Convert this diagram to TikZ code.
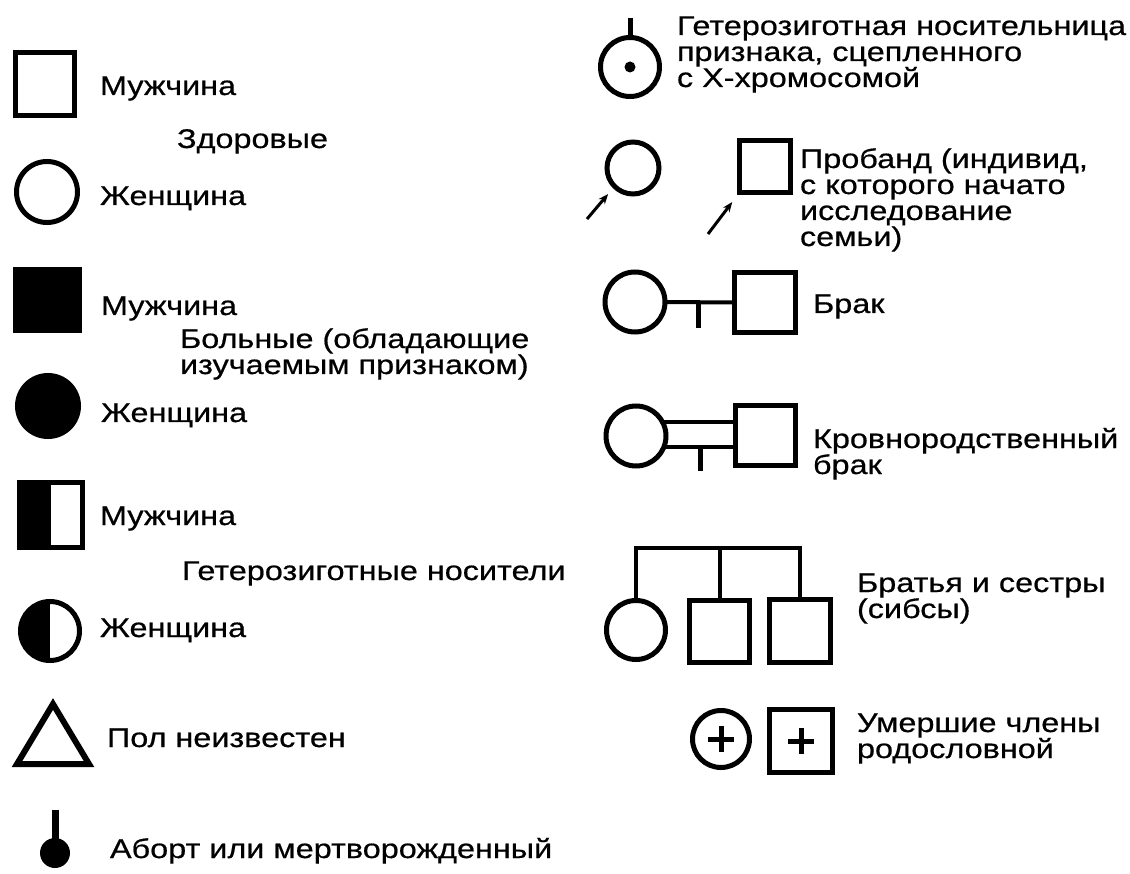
\documentclass[tikz,border=0pt]{standalone}
\usepackage{fontspec}
\setmainfont{Liberation Sans}[FakeStretch=1.2,FakeBold=0.6]
\usetikzlibrary{arrows.meta}
\newcommand\firstln{\rule{0pt}{25pt}}
\newcommand\lblfont{\fontsize{27}{26}\selectfont\lineskiplimit=-100pt\relax\lineskip=0pt\relax}
\begin{document}
\begin{tikzpicture}[x=1pt,y=-1pt,
  every node/.style={inner sep=0pt,outer sep=0pt},
  sym/.style={draw=black,line width=5pt,fill=white},
  sqr/.style={sym,rectangle,minimum width=#1},
  crc/.style={sym,circle,minimum size=#1},
  halfsq/.style={path picture={\fill[black] (path picture bounding box.south west) rectangle (path picture bounding box.north);}},
  lbl/.style={anchor=north west,align=left,font=\lblfont},
  link/.style={line width=4pt},
  tick/.style={line width=5pt},
  parrow/.style={line width=3pt,-{Stealth[length=10pt,width=8pt]}},
  plus/.style={line width=5pt}
]
\useasboundingbox (0,0) rectangle (1130,874);
\fill[white] (0,0) rectangle (1130,874);

% ---------- left column ----------
\node[sqr=59pt,minimum height=63pt] (sqH) at (45,84) {};
\node[lbl] (tMH) at (100,70) {\firstln Мужчина};
\node[lbl] (tHealthy) at (177,123) {\firstln Здоровые};
\node[crc=61pt] (crH) at (47,192) {};
\node[lbl] (tFH) at (100,180) {\firstln Женщина};

\node[sqr=64pt,minimum height=61pt,fill=black] (sqA) at (47.5,300) {};
\node[lbl] (tMA) at (101,290) {\firstln Мужчина};
\node[lbl] (tAff) at (180,323) {\firstln Больные (обладающие\\изучаемым признаком)};
\node[crc=61pt,fill=black] (crA) at (48,406) {};
\node[lbl] (tFA) at (101,397) {\firstln Женщина};

\node[sqr=63pt,minimum height=65pt,halfsq] (sqC) at (51,515) {};
\node[lbl] (tMC) at (100,500) {\firstln Мужчина};
\node[lbl] (tCar) at (182,555) {\firstln Гетерозиготные носители};
\node[crc=59pt,halfsq] (crC) at (50,631) {};
\node[lbl] (tFC) at (100,612) {\firstln Женщина};

\coordinate (triA) at (53,704);
\coordinate (triB) at (89,764);
\coordinate (triC) at (17,764);
\draw[line width=6pt,line join=miter] (triA) -- (triB) -- (triC) -- cycle;
\node[lbl] (tUnk) at (107,722) {\firstln Пол неизвестен};

\coordinate (abTop) at (55,810);
\node[circle,fill=black,minimum size=30pt] (abC) at (55,853) {};
\draw[line width=7pt] (abTop) -- (abC.center);
\node[lbl] (tAb) at (110,833) {\firstln Аборт или мертворожденный};

% ---------- right column ----------
\node[crc=59pt] (crX) at (630,67) {};
\coordinate (cxTop) at (630,18);
\draw[tick] (cxTop) -- (crX.north);
\fill[black] (crX.center) circle[radius=5.5];
\node[lbl] (tX) at (677,10) {\firstln Гетерозиготная носительница\\признака, сцепленного\\с Х-хромосомой};

\node[crc=52pt] (crP) at (633,168) {};
\node[sqr=51pt,minimum height=52pt] (sqP) at (765,166.5) {};
\coordinate (pa1) at (587,219);
\coordinate (pa2) at (708,234);
\draw[parrow,shorten >=10pt] (pa1) -- (crP.225);
\draw[parrow,shorten >=12pt] (pa2) -- (sqP.south west);
\node[lbl] (tP) at (800,143) {\firstln Пробанд (индивид,\\с которого начато\\исследование\\семьи)};

\node[crc=60pt] (crM) at (635,302) {};
\node[sqr=61pt,minimum height=60pt] (sqM) at (765,302.5) {};
\draw[link] (crM.east) -- (sqM.west);
\coordinate (tkM) at (698,328);
\draw[tick] (tkM) -- (tkM |- crM.center);
\node[lbl] (tM) at (813,288) {\firstln Брак};

\node[crc=60pt] (crK) at (636,436) {};
\node[sqr=60pt,minimum height=60pt] (sqK) at (765.5,435.5) {};
\draw[link] (crK.28) -- (crK.28 -| sqK.west);
\draw[link] (crK.-22) -- (crK.-22 -| sqK.west);
\coordinate (tkK) at (700,471);
\draw[tick] (tkK) -- (tkK |- crK.-22);
\node[lbl] (tK) at (813,423) {\firstln Кровнородственный\\брак};

\node[crc=59pt] (crS) at (636,630) {};
\node[sqr=60pt,minimum height=62pt] (sqS1) at (719.5,631.5) {};
\node[sqr=61pt,minimum height=63pt] (sqS2) at (800,631) {};
\coordinate (bar) at (700,548);
\draw[link,line join=miter] (crS.north) -- (crS.north |- bar) -- (sqS2.north |- bar) -- (sqS2.north);
\draw[link] (sqS1.north) -- (sqS1.north |- bar);
\node[lbl] (tS) at (857,567) {\firstln Братья и сестры\\(сибсы)};

\node[crc=57pt] (crD) at (721,739) {};
\node[sqr=63pt,minimum height=63pt] (sqD) at (801,741) {};
\draw[plus] ([xshift=-13pt]crD.center) -- ([xshift=13pt]crD.center);
\draw[plus] ([yshift=-13pt]crD.center) -- ([yshift=13pt]crD.center);
\draw[plus] ([xshift=-13pt]sqD.center) -- ([xshift=13pt]sqD.center);
\draw[plus] ([yshift=-13pt]sqD.center) -- ([yshift=13pt]sqD.center);
\node[lbl] (tD) at (857,707) {\firstln Умершие члены\\родословной};
\end{tikzpicture}
\end{document}
